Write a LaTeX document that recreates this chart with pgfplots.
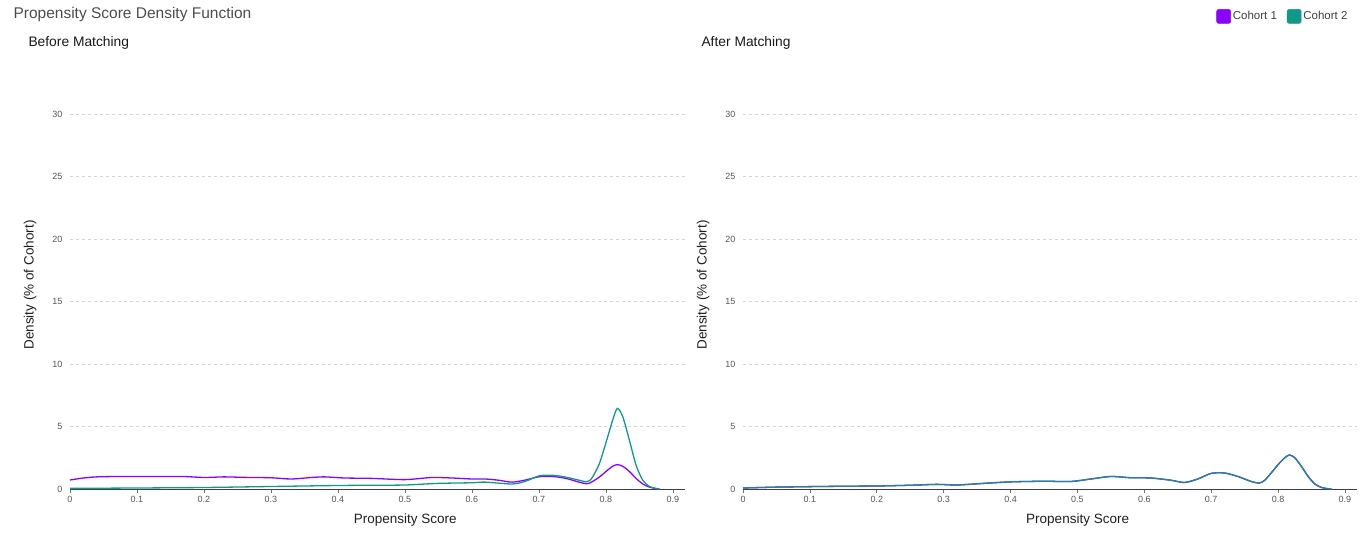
\documentclass[border=0pt]{standalone}
\usepackage{pgfplots}
\pgfplotsset{compat=1.18}
\usepackage{fontspec}
\setmainfont{Liberation Sans}
\definecolor{cA}{HTML}{8B00FF}
\definecolor{cB}{HTML}{0E9A87}
\definecolor{tk}{HTML}{555555}
\definecolor{gridc}{HTML}{D6D6D6}
\pgfplotstableread{
x y
0 0.72
0.02 0.88
0.04 0.97
0.07 1.0
0.1 1.0
0.13 1.0
0.17 1.0
0.2 0.92
0.23 0.97
0.26 0.93
0.3 0.9
0.33 0.8
0.36 0.92
0.38 0.97
0.41 0.88
0.45 0.85
0.5 0.75
0.54 0.92
0.57 0.88
0.6 0.8
0.62 0.8
0.64 0.7
0.66 0.55
0.68 0.72
0.70 0.98
0.72 1.0
0.74 0.85
0.76 0.55
0.772 0.42
0.78 0.6
0.79 0.95
0.80 1.4
0.81 1.82
0.817 1.95
0.825 1.82
0.835 1.4
0.845 0.85
0.855 0.4
0.865 0.15
0.875 0.03
0.88 0
}\beforeA
\pgfplotstableread{
x y
0 0.05
0.1 0.08
0.2 0.12
0.3 0.2
0.4 0.28
0.45 0.3
0.5 0.32
0.55 0.45
0.6 0.5
0.62 0.55
0.66 0.4
0.68 0.62
0.70 1.05
0.72 1.1
0.74 0.95
0.76 0.7
0.77 0.58
0.775 0.65
0.78 0.95
0.79 2.0
0.80 3.7
0.81 5.5
0.817 6.45
0.825 5.8
0.835 3.9
0.845 1.9
0.855 0.7
0.865 0.2
0.875 0.04
0.88 0
}\beforeB
\pgfplotstableread{
x y
0 0.08
0.05 0.15
0.1 0.19
0.15 0.22
0.2 0.24
0.25 0.3
0.29 0.37
0.32 0.32
0.36 0.45
0.4 0.57
0.45 0.62
0.49 0.6
0.52 0.8
0.55 1.0
0.58 0.9
0.61 0.88
0.64 0.7
0.66 0.52
0.68 0.8
0.70 1.25
0.72 1.28
0.74 1.0
0.76 0.6
0.772 0.48
0.78 0.7
0.79 1.3
0.80 1.95
0.81 2.5
0.817 2.72
0.825 2.5
0.835 1.8
0.845 1.0
0.855 0.4
0.865 0.12
0.875 0.02
0.88 0
}\after
\pgfplotsset{
  psd/.style={
    scale only axis, width=615pt, height=400pt,
    xmin=0, xmax=0.918, ymin=0, ymax=32,
    axis x line*=bottom, axis y line*=left,
    x axis line style={draw=black!75, line width=0.8pt},
    y axis line style={draw=none},
    xtick={0,0.1,...,0.9}, ytick={0,5,...,30},
    /pgf/number format/assume math mode=true,
    xticklabel={\pgfmathprintnumber[fixed,precision=1]{\tick}},
    x tick style={draw=black!55, line width=0.6pt},
    y tick style={draw=none},
    tick align=outside, major tick length=4pt,
    ymajorgrids, grid style={dashed, gridc, line width=0.6pt},
    xticklabel style={font=\fontsize{9}{10}\selectfont, text=tk},
    yticklabel style={font=\fontsize{9}{10}\selectfont, text=tk},
    xlabel={Propensity Score}, ylabel={Density (\% of Cohort)},
    xlabel style={font=\fontsize{13.5}{15}\selectfont, text=black!88, at={(axis description cs:0.545,0)}, anchor=north, yshift=-21pt},
    ylabel style={font=\fontsize{13.5}{15}\selectfont, text=black!88, at={(axis description cs:-0.065,0.51)}, anchor=center, rotate=0},
    clip=false,
  },
  ln/.style={smooth, tension=0.45, no marks, line width=1.3pt},
}
\begin{document}
\begin{tikzpicture}
\path[use as bounding box] (0,0) rectangle (1371pt,533pt);
\node[anchor=west, font=\fontsize{15.5}{17}\selectfont, text=black!70] at (10pt,533pt-14pt) {Propensity Score Density Function};
\node[anchor=west, font=\fontsize{13.8}{15}\selectfont, text=black!90] at (25pt,533pt-43pt) {Before Matching};
\node[anchor=west, font=\fontsize{13.8}{15}\selectfont, text=black!90] at (698pt,533pt-43pt) {After Matching};
\begin{axis}[psd, at={(70pt,44pt)}, anchor=origin]
\addplot[ln, cA] table[x=x,y=y] {\beforeA};
\addplot[ln, cB] table[x=x,y=y] {\beforeB};
\end{axis}
\begin{axis}[psd, at={(743pt,44pt)}, anchor=origin, width=614pt,
  legend columns=2,
  legend style={draw=none, fill=none, at={(axis description cs:0.993,1.205)}, anchor=north east,
    font=\fontsize{11.5}{13}\selectfont, text=black!75,
    /tikz/every even column/.append style={column sep=8pt}},
  legend cell align=left]
\addlegendimage{legend image code/.code={\fill[cA, rounded corners=2pt] (0pt,-7pt) rectangle (14pt,7pt);}}
\addlegendentry{Cohort 1}
\addlegendimage{legend image code/.code={\fill[cB, rounded corners=2pt] (0pt,-7pt) rectangle (14pt,7pt);}}
\addlegendentry{Cohort 2}
\addplot[ln, cA, forget plot] table[x=x,y=y] {\after};
\addplot[ln, cB!88!cA, forget plot] table[x=x,y=y] {\after};
\end{axis}
\end{tikzpicture}
\end{document}
